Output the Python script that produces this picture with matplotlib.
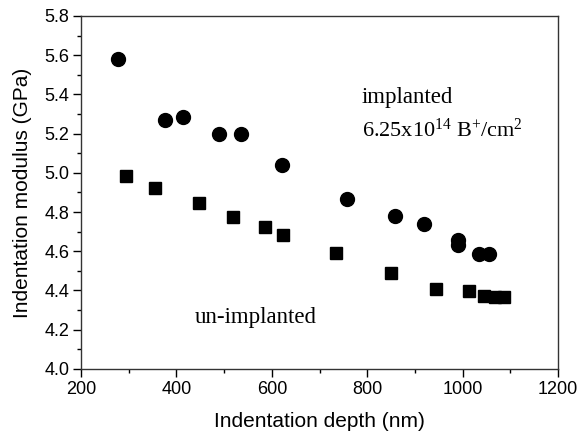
import numpy as np
import matplotlib.pyplot as plt

# implanted (circles)
imp_depth = [278, 376, 414, 489, 535, 621, 757, 858, 918, 990, 990, 1034, 1055]
imp_mod = [5.58, 5.27, 5.285, 5.20, 5.198, 5.04, 4.866, 4.78, 4.737, 4.66, 4.63, 4.586, 4.586]

# un-implanted (squares)
un_depth = [295, 355, 447, 519, 586, 623, 735, 850, 944, 1014, 1044, 1068, 1087]
un_mod = [4.984, 4.924, 4.847, 4.776, 4.725, 4.683, 4.592, 4.487, 4.406, 4.399, 4.373, 4.365, 4.368]

plt.rcParams['font.family'] = ['Liberation Sans', 'DejaVu Sans']
plt.rcParams['mathtext.fontset'] = 'custom'
plt.rcParams['mathtext.rm'] = 'Liberation Serif'
plt.rcParams['mathtext.it'] = 'Liberation Serif:italic'

fig = plt.figure(figsize=(5.85, 4.32), dpi=100)
ax = fig.add_axes([0.1385, 0.146, 0.8155, 0.817])

ax.plot(imp_depth, imp_mod, 'o', color='black', markersize=10, linestyle='none')
ax.plot(un_depth, un_mod, 's', color='black', markersize=8.8, linestyle='none')

ax.set_xlim(200, 1200)
ax.set_ylim(4.0, 5.8)
ax.set_xticks(np.arange(200, 1201, 200))
ax.set_xticks(np.arange(300, 1200, 200), minor=True)
ax.set_yticks(np.arange(4.0, 5.81, 0.2))
ax.set_yticks(np.arange(4.1, 5.8, 0.2), minor=True)
ax.yaxis.set_major_formatter(plt.FormatStrFormatter('%.1f'))
ax.tick_params(which='major', direction='out', length=5.5, width=1, labelsize=13, pad=3)
ax.tick_params(which='minor', direction='out', length=3, width=1)

for s in ax.spines.values():
    s.set_linewidth(1.0)
    s.set_color('#333333')

ax.set_xlabel('Indentation depth (nm)', fontsize=15, labelpad=10)
ax.set_ylabel('Indentation modulus (GPa)', fontsize=15, labelpad=9)

serif = ['Liberation Serif', 'DejaVu Serif']
ax.text(0.589, 0.753, 'implanted', transform=ax.transAxes, fontsize=16.5, family=serif)
ax.text(0.589, 0.657, r'6.25x10$^{14}$ B$^{+}$/cm$^{2}$', transform=ax.transAxes,
        fontsize=16, family=serif)
ax.text(0.238, 0.13, 'un-implanted', transform=ax.transAxes, fontsize=16.5, family=serif)

fig.savefig('out.png', dpi=100)
